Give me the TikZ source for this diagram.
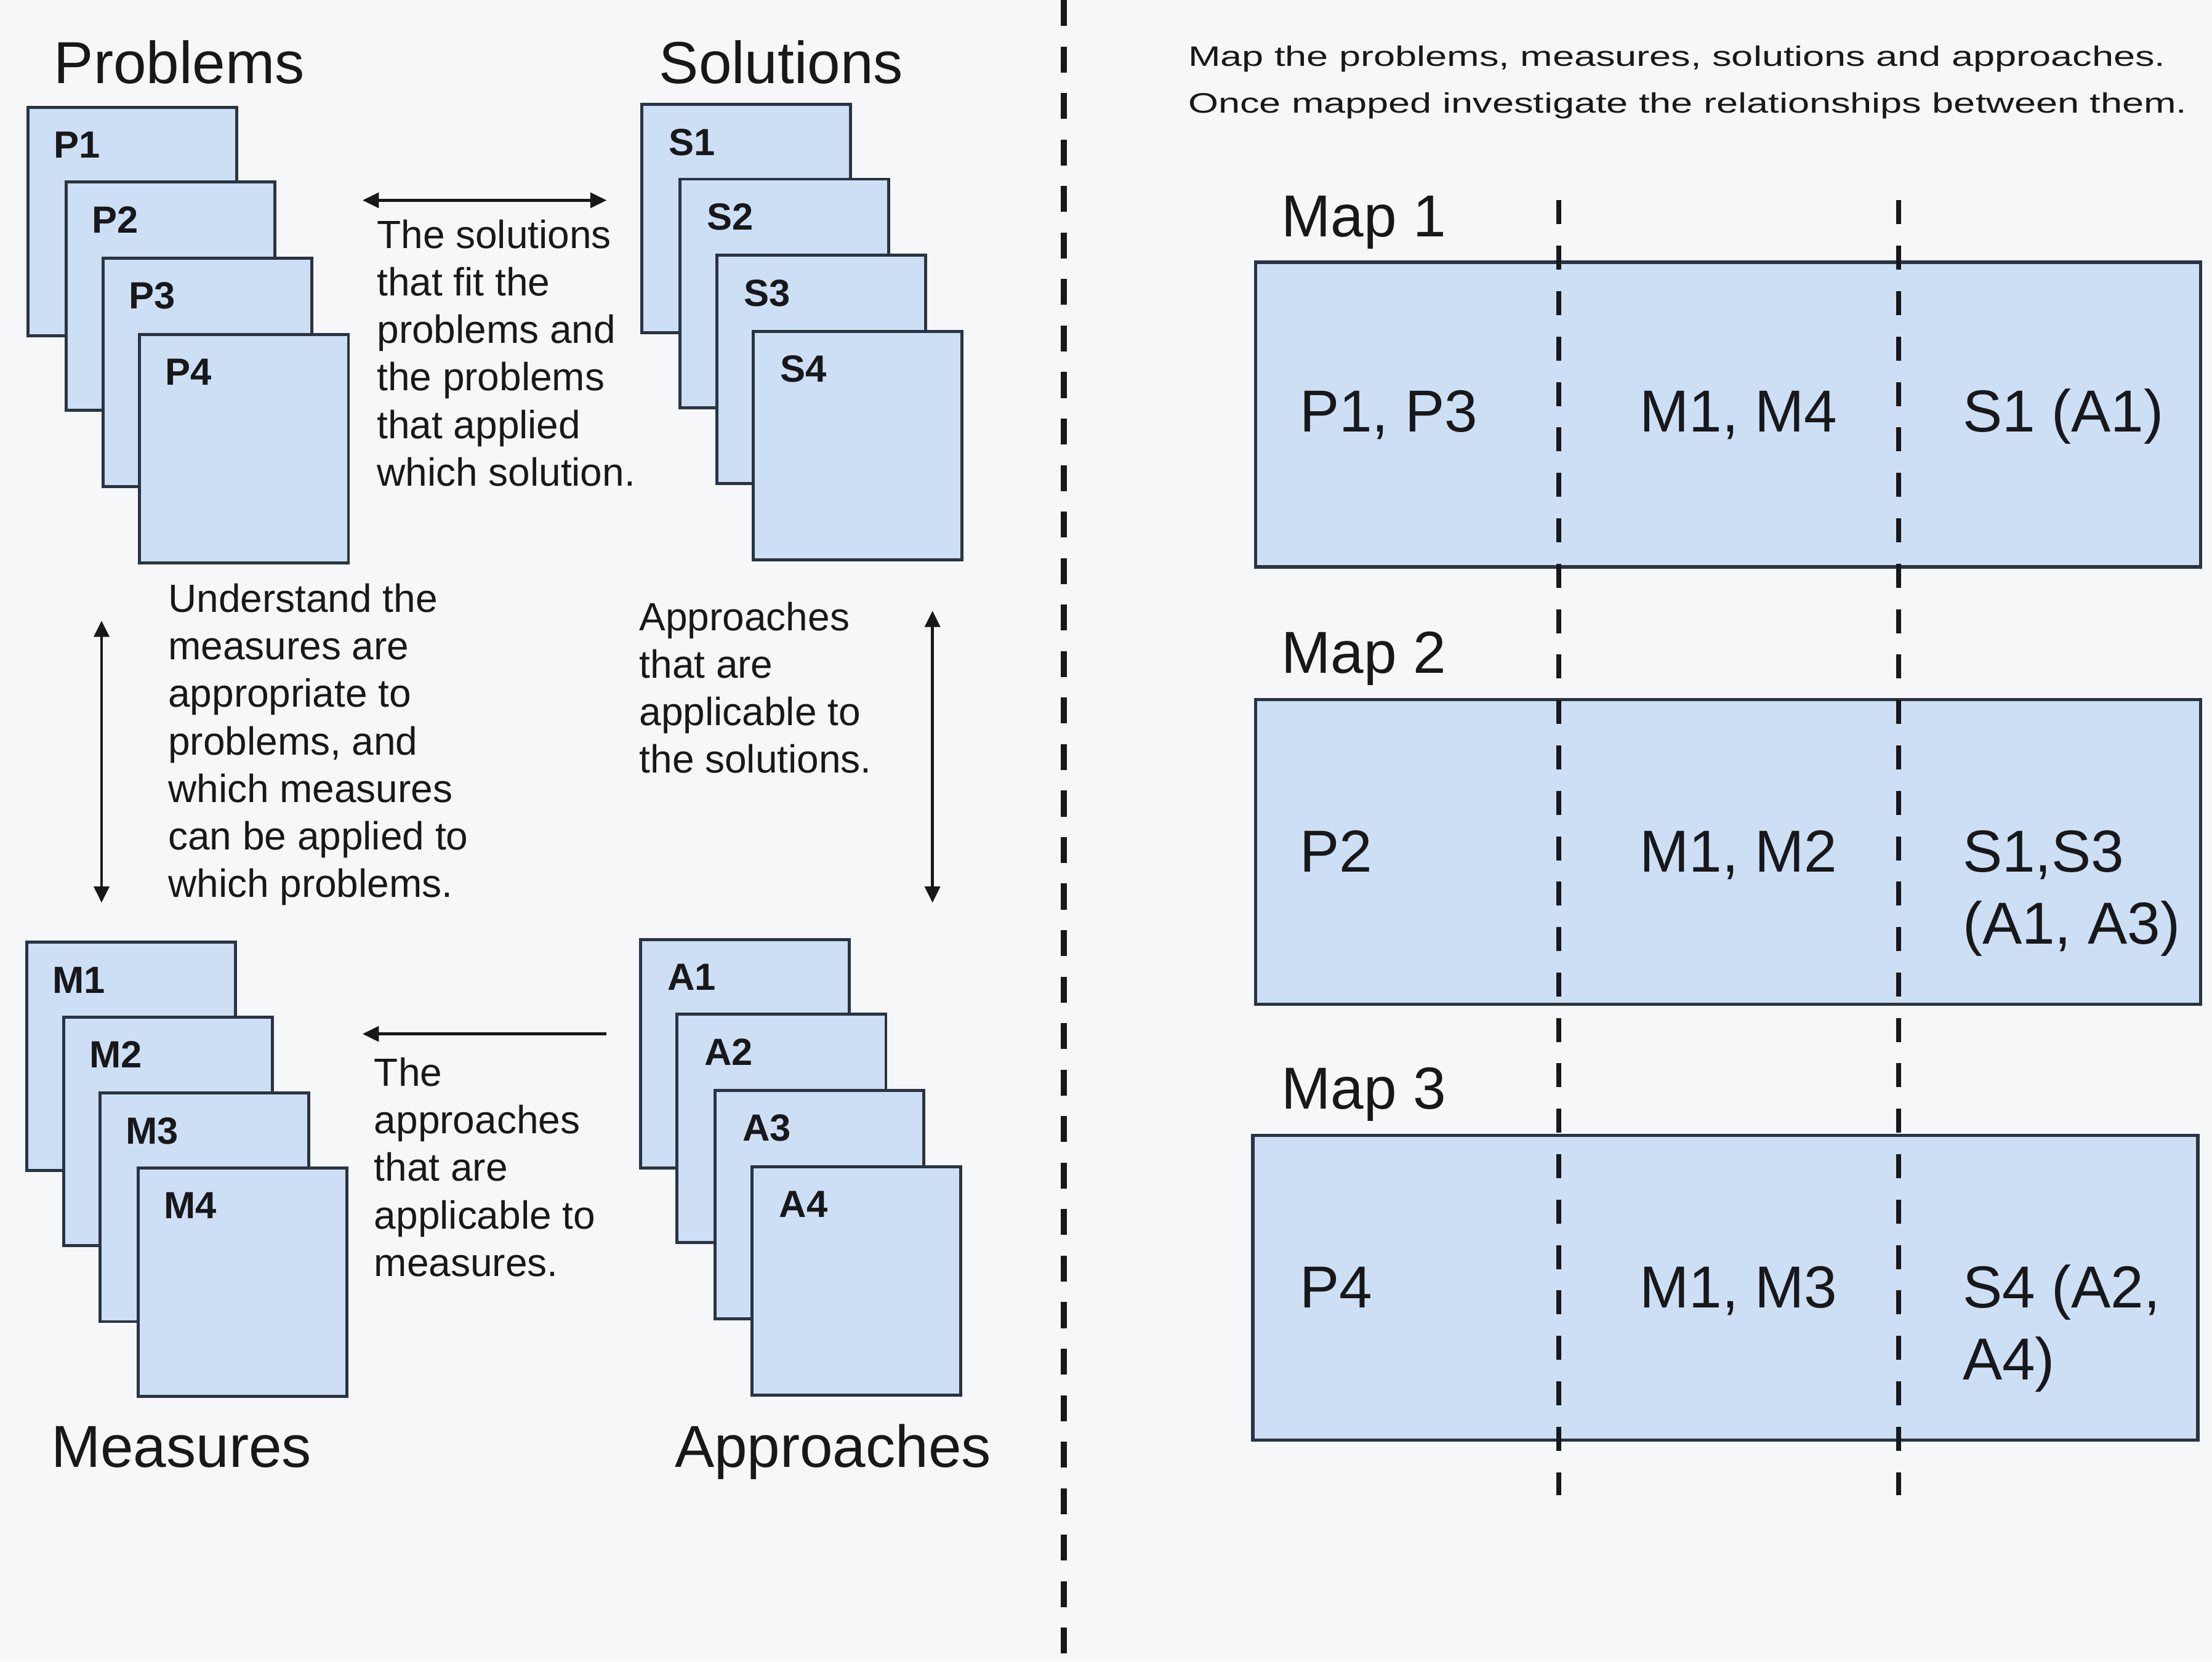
\documentclass[tikz,border=0pt]{standalone}
\usepackage{fontspec}
\setmainfont{Liberation Sans}
\usepackage{graphicx}
\usetikzlibrary{arrows.meta}

\definecolor{pagebg}{RGB}{246,247,249}
\definecolor{cardfill}{RGB}{205,223,245}
\definecolor{cardline}{RGB}{42,52,66}
\definecolor{ink}{RGB}{24,24,26}

% left-aligned multi-line text whose reference point is the first baseline
\newcommand{\txtblock}[1]{\begin{tabular}[t]{@{}l@{}}#1\end{tabular}}

\tikzset{
  card/.style={draw=cardline, fill=cardfill, line width=1.4pt,
    minimum width=96.5pt, minimum height=105.6pt,
    anchor=north west, inner sep=0pt, outer sep=0pt},
  tag/.style={anchor=base west, inner sep=0pt,
    font=\fontsize{17.5}{20}\selectfont\bfseries, text=ink},
  heading/.style={anchor=base west, inner sep=0pt,
    font=\fontsize{27.4}{33}\selectfont, text=ink},
  note/.style={anchor=base west, inner sep=0pt,
    font=\fontsize{18.2}{21.97}\selectfont, text=ink},
  intro/.style={anchor=base west, inner sep=0pt,
    font=\fontsize{13}{21.5}\selectfont, text=ink},
  mapbox/.style={draw=cardline, fill=cardfill, line width=1.6pt,
    minimum width=436.8pt, minimum height=140.8pt,
    anchor=north west, inner sep=0pt, outer sep=0pt},
  cell/.style={anchor=base west, inner sep=0pt,
    font=\fontsize{27.4}{33.3}\selectfont, text=ink},
  tip/.tip={Triangle[length=7.5pt,width=7pt]},
  link/.style={draw=ink, line width=1.3pt},
  divider/.style={draw=ink, line width=2.8pt, dash pattern=on 12pt off 9.5pt},
  column/.style={draw=ink, line width=2.2pt, dash pattern=on 11.1pt off 9.9pt},
}

\begin{document}
\begin{tikzpicture}[x=0.022915cm, y=-0.022915cm]
  % page
  \fill[pagebg] (0,0) rectangle (1568,1178);
  \useasboundingbox (0,0) rectangle (1568,1178);

  % ---------- left half: the four stacks ----------
  \node[heading] (hprob) at (38,59) {Problems};
  \node[heading] (hsol)  at (467,59) {Solutions};
  \node[heading] (hmeas) at (36,1040) {Measures};
  \node[heading] (happr) at (478,1040) {Approaches};

  % problems
  \node[card] (p1) at (20,76)  {};
  \node[tag] (p1t) at ([shift={(18,36)}]p1.north west) {P1};
  \node[card] (p2) at (47,129) {};
  \node[tag] (p2t) at ([shift={(18,36)}]p2.north west) {P2};
  \node[card] (p3) at (73,183) {};
  \node[tag] (p3t) at ([shift={(18,36)}]p3.north west) {P3};
  \node[card] (p4) at (99,237) {};
  \node[tag] (p4t) at ([shift={(18,36)}]p4.north west) {P4};

  % solutions
  \node[card] (s1) at (455,74)  {};
  \node[tag] (s1t) at ([shift={(19,36)}]s1.north west) {S1};
  \node[card] (s2) at (482,127) {};
  \node[tag] (s2t) at ([shift={(19,36)}]s2.north west) {S2};
  \node[card] (s3) at (508,181) {};
  \node[tag] (s3t) at ([shift={(19,36)}]s3.north west) {S3};
  \node[card] (s4) at (534,235) {};
  \node[tag] (s4t) at ([shift={(19,36)}]s4.north west) {S4};

  % measures
  \node[card] (m1) at (19,668)  {};
  \node[tag] (m1t) at ([shift={(18,36)}]m1.north west) {M1};
  \node[card] (m2) at (45,721)  {};
  \node[tag] (m2t) at ([shift={(18,36)}]m2.north west) {M2};
  \node[card] (m3) at (71,775)  {};
  \node[tag] (m3t) at ([shift={(18,36)}]m3.north west) {M3};
  \node[card] (m4) at (98,828)  {};
  \node[tag] (m4t) at ([shift={(18,36)}]m4.north west) {M4};

  % approaches
  \node[card] (a1) at (454,666) {};
  \node[tag] (a1t) at ([shift={(19,36)}]a1.north west) {A1};
  \node[card] (a2) at (480,719) {};
  \node[tag] (a2t) at ([shift={(19,36)}]a2.north west) {A2};
  \node[card] (a3) at (507,773) {};
  \node[tag] (a3t) at ([shift={(19,36)}]a3.north west) {A3};
  \node[card] (a4) at (533,827) {};
  \node[tag] (a4t) at ([shift={(19,36)}]a4.north west) {A4};

  % explanations
  \node[note] (fit) at (267,176) {\txtblock{The solutions\\that fit the\\problems and\\the problems\\that applied\\which solution.}};
  \node[note] (understand) at (119,434) {\txtblock{Understand the\\measures are\\appropriate to\\problems, and\\which measures\\can be applied to\\which problems.}};
  \node[note] (applsol) at (453,447) {\txtblock{Approaches\\that are\\applicable to\\the solutions.}};
  \node[note] (applmeas) at (265,770) {\txtblock{The\\approaches\\that are\\applicable to\\measures.}};

  % arrows between the stacks
  \coordinate (ps-l) at (257,142);
  \coordinate (ps-r) at (430,142);
  \coordinate (pm-t) at (72,440);
  \coordinate (pm-b) at (72,640);
  \coordinate (sa-t) at (661,433);
  \coordinate (sa-b) at (661,640);
  \coordinate (am-r) at (430,733);
  \coordinate (am-l) at (257,733);
  \draw[link, tip-tip] (ps-l) -- (ps-r);
  \draw[link, tip-tip] (pm-t) -- (pm-b);
  \draw[link, tip-tip] (sa-t) -- (sa-b);
  \draw[link, -tip] (am-r) -- (am-l);

  % page divider
  \coordinate (div-t) at (754,0);
  \coordinate (div-b) at (754,1178);
  \draw[divider] (div-t) -- (div-b);

  % ---------- right half: the maps ----------
  \node[intro] (task) at (842,47) {\scalebox{1.38}[1]{\txtblock{Map the problems, measures, solutions and approaches.\\Once mapped investigate the relationships between them.}}};

  \node[heading] (map1l) at (908,168) {Map 1};
  \node[heading] (map2l) at (908,477) {Map 2};
  \node[heading] (map3l) at (908,786) {Map 3};

  \node[mapbox] (map1) at (890,186) {};
  \node[mapbox] (map2) at (890,496) {};
  \node[mapbox] (map3) at (888,805) {};

  \coordinate (col1-t) at (1105,142);
  \coordinate (col1-b) at (1105,1060);
  \coordinate (col2-t) at (1346,142);
  \coordinate (col2-b) at (1346,1060);
  \draw[column] (col1-t) -- (col1-b);
  \draw[column] (col2-t) -- (col2-b);

  \node[cell] (m1p) at (921,306) {P1, P3};
  \node[cell] (m1m) at (1162,306) {M1, M4};
  \node[cell] (m1s) at (1391,306) {S1 (A1)};

  \node[cell] (m2p) at (921,618) {P2};
  \node[cell] (m2m) at (1162,618) {M1, M2};
  \node[cell] (m2s) at (1391,618) {\txtblock{S1,S3\\(A1, A3)}};

  \node[cell] (m3p) at (921,927) {P4};
  \node[cell] (m3m) at (1162,927) {M1, M3};
  \node[cell] (m3s) at (1391,927) {\txtblock{S4 (A2,\\A4)}};
\end{tikzpicture}
\end{document}
